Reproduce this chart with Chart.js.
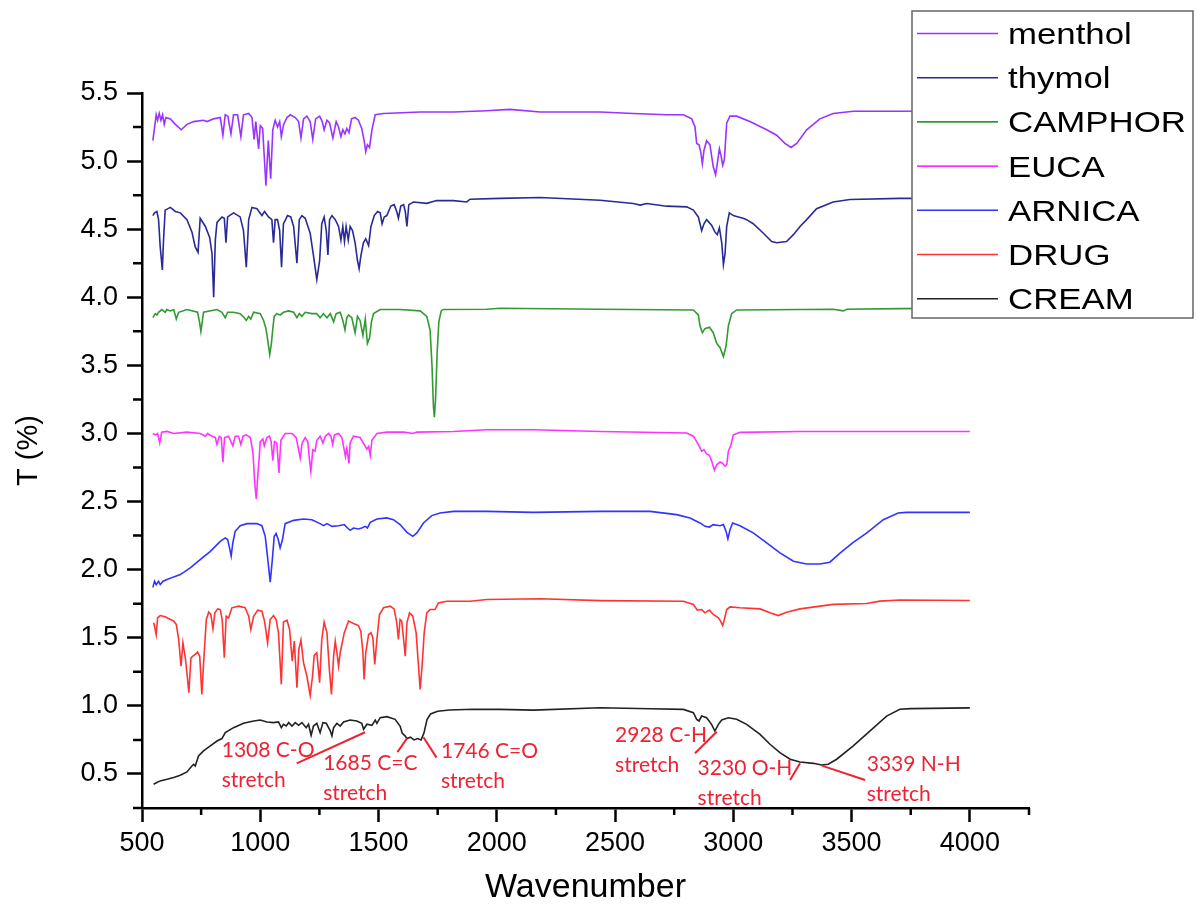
<!DOCTYPE html>
<html>
<head>
<meta charset="utf-8">
<script src="https://cdn.jsdelivr.net/npm/chart.js@4.4.0/dist/chart.umd.min.js"></script>
<style>
  html, body { margin: 0; padding: 0; background: #fff; }
  #wrap { width: 1196px; height: 920px; }
</style>
</head>
<body>
<div id="wrap"><canvas id="ftir" width="1196" height="920"></canvas></div>
<script>
// spectra: [wavenumber, T]
const menthol = [[546,5.15],[560,5.34],[566,5.30],[573,5.35],[580,5.30],[587,5.34],[594,5.27],[601,5.32],[620,5.31],[641,5.27],[666,5.23],[690,5.27],[718,5.29],[760,5.30],[775,5.29],[803,5.31],[831,5.32],[842,5.19],[852,5.34],[863,5.33],[876,5.20],[887,5.34],[904,5.34],[918,5.18],[929,5.34],[951,5.35],[965,5.32],[974,5.16],[981,5.29],[993,5.09],[1000,5.26],[1010,5.24],[1024,4.82],[1034,5.15],[1044,4.87],[1053,5.23],[1063,5.30],[1073,5.25],[1082,5.29],[1089,5.18],[1099,5.27],[1113,5.32],[1127,5.34],[1148,5.32],[1162,5.29],[1172,5.17],[1183,5.31],[1197,5.33],[1211,5.29],[1222,5.16],[1234,5.31],[1251,5.33],[1262,5.29],[1270,5.23],[1282,5.30],[1293,5.28],[1307,5.17],[1321,5.29],[1331,5.25],[1341,5.18],[1349,5.23],[1358,5.20],[1366,5.24],[1375,5.21],[1386,5.31],[1401,5.32],[1415,5.30],[1429,5.24],[1439,5.15],[1446,5.07],[1453,5.12],[1462,5.10],[1472,5.23],[1486,5.34],[1521,5.35],[1676,5.36],[1817,5.36],[1958,5.37],[2056,5.38],[2183,5.36],[2437,5.36],[2577,5.35],[2718,5.34],[2789,5.34],[2824,5.31],[2838,5.25],[2845,5.13],[2855,5.12],[2862,5.07],[2869,4.98],[2876,5.08],[2887,5.15],[2901,5.12],[2915,4.96],[2925,4.90],[2932,4.98],[2941,5.09],[2948,5.04],[2955,4.97],[2962,5.01],[2972,5.28],[2986,5.33],[3014,5.33],[3070,5.29],[3141,5.23],[3183,5.19],[3218,5.13],[3244,5.10],[3268,5.13],[3310,5.23],[3366,5.31],[3422,5.35],[3507,5.366],[3704,5.366],[4000,5.37]];

const thymol = [[546,4.60],[553,4.62],[563,4.63],[570,4.57],[577,4.37],[586,4.20],[591,4.42],[598,4.64],[620,4.66],[641,4.63],[662,4.62],[690,4.57],[711,4.48],[725,4.37],[737,4.33],[746,4.58],[768,4.52],[786,4.44],[796,4.32],[803,4.00],[810,4.42],[817,4.55],[838,4.59],[848,4.58],[855,4.40],[862,4.59],[887,4.62],[915,4.59],[929,4.49],[941,4.22],[951,4.57],[965,4.66],[986,4.65],[1007,4.60],[1018,4.63],[1035,4.59],[1049,4.57],[1056,4.40],[1063,4.57],[1073,4.57],[1082,4.49],[1090,4.22],[1098,4.54],[1107,4.57],[1115,4.60],[1129,4.59],[1141,4.52],[1155,4.25],[1165,4.57],[1176,4.60],[1190,4.58],[1211,4.47],[1228,4.27],[1239,4.13],[1251,4.27],[1260,4.54],[1270,4.59],[1279,4.49],[1286,4.31],[1293,4.57],[1303,4.60],[1317,4.57],[1331,4.52],[1341,4.42],[1349,4.52],[1356,4.41],[1363,4.52],[1372,4.42],[1380,4.52],[1390,4.49],[1401,4.40],[1411,4.27],[1418,4.21],[1425,4.30],[1436,4.40],[1446,4.43],[1458,4.38],[1468,4.52],[1482,4.60],[1496,4.63],[1507,4.62],[1515,4.54],[1524,4.59],[1535,4.60],[1552,4.67],[1566,4.68],[1577,4.63],[1584,4.58],[1594,4.67],[1606,4.68],[1613,4.63],[1620,4.52],[1628,4.68],[1648,4.70],[1704,4.69],[1746,4.71],[1817,4.71],[1873,4.70],[1887,4.72],[2014,4.726],[2183,4.733],[2437,4.713],[2577,4.689],[2606,4.677],[2634,4.689],[2718,4.669],[2803,4.664],[2831,4.64],[2852,4.59],[2866,4.49],[2876,4.54],[2887,4.57],[2908,4.53],[2922,4.48],[2932,4.46],[2941,4.51],[2951,4.40],[2958,4.24],[2965,4.32],[2972,4.52],[2983,4.62],[3000,4.60],[3021,4.59],[3042,4.58],[3056,4.57],[3084,4.54],[3127,4.47],[3162,4.41],[3183,4.40],[3225,4.41],[3254,4.46],[3282,4.52],[3310,4.57],[3352,4.65],[3422,4.70],[3493,4.718],[3704,4.726],[4000,4.725]];

const camphor = [[546,3.85],[556,3.88],[563,3.87],[570,3.89],[584,3.91],[598,3.89],[605,3.91],[620,3.90],[634,3.91],[645,3.84],[655,3.89],[690,3.91],[735,3.89],[744,3.81],[749,3.75],[754,3.81],[760,3.89],[817,3.91],[838,3.89],[852,3.85],[862,3.89],[887,3.89],[915,3.88],[932,3.85],[941,3.83],[951,3.86],[960,3.84],[972,3.89],[1000,3.88],[1014,3.83],[1024,3.77],[1032,3.68],[1040,3.58],[1047,3.66],[1053,3.77],[1059,3.86],[1070,3.88],[1084,3.87],[1098,3.89],[1120,3.90],[1141,3.89],[1155,3.85],[1165,3.88],[1176,3.86],[1190,3.89],[1218,3.88],[1239,3.88],[1253,3.85],[1267,3.88],[1282,3.85],[1296,3.88],[1310,3.82],[1321,3.88],[1338,3.89],[1349,3.83],[1358,3.76],[1366,3.85],[1373,3.87],[1387,3.85],[1401,3.74],[1411,3.86],[1422,3.83],[1434,3.72],[1444,3.84],[1453,3.66],[1462,3.70],[1470,3.82],[1479,3.88],[1507,3.91],[1591,3.91],[1676,3.90],[1704,3.86],[1718,3.76],[1726,3.50],[1732,3.20],[1736,3.12],[1741,3.25],[1748,3.60],[1755,3.82],[1765,3.90],[1774,3.91],[1958,3.912],[2014,3.919],[2437,3.912],[2831,3.907],[2852,3.87],[2859,3.79],[2869,3.74],[2880,3.77],[2899,3.78],[2915,3.74],[2930,3.66],[2944,3.63],[2958,3.565],[2969,3.64],[2979,3.79],[2993,3.88],[3014,3.907],[3422,3.912],[3465,3.90],[3480,3.912],[3704,3.917],[4000,3.92]];

const euca = [[546,3.00],[556,2.99],[566,3.00],[575,2.93],[583,3.01],[606,3.015],[634,3.00],[690,3.01],[746,3.00],[768,2.98],[777,3.00],[796,2.98],[810,2.97],[817,2.92],[827,2.98],[835,2.97],[842,2.79],[849,2.97],[866,2.98],[876,2.94],[884,2.91],[894,2.98],[908,2.98],[918,2.92],[927,2.98],[941,2.99],[958,2.97],[969,2.86],[976,2.65],[983,2.52],[990,2.70],[995,2.81],[1000,2.94],[1011,2.96],[1017,2.91],[1028,2.97],[1039,2.98],[1046,2.94],[1053,2.80],[1060,2.94],[1070,2.93],[1079,2.71],[1087,2.95],[1105,3.00],[1134,3.00],[1152,2.97],[1162,2.88],[1169,2.82],[1177,2.93],[1190,2.97],[1201,2.94],[1208,2.81],[1214,2.72],[1222,2.88],[1232,2.87],[1239,2.95],[1253,2.98],[1265,2.93],[1275,2.98],[1289,3.00],[1299,2.98],[1306,2.92],[1314,2.99],[1331,3.00],[1345,2.97],[1355,2.88],[1360,2.83],[1366,2.89],[1375,2.78],[1380,2.93],[1394,2.98],[1422,2.97],[1439,2.92],[1451,2.885],[1458,2.905],[1465,2.84],[1472,2.95],[1493,3.00],[1535,3.01],[1606,3.01],[1645,3.00],[1662,3.01],[1817,3.015],[1958,3.027],[2155,3.027],[2437,3.015],[2803,3.003],[2831,2.98],[2852,2.92],[2866,2.87],[2876,2.88],[2887,2.85],[2899,2.84],[2908,2.80],[2920,2.73],[2930,2.77],[2944,2.79],[2955,2.78],[2965,2.76],[2972,2.77],[2979,2.87],[2989,2.91],[3000,2.99],[3028,3.008],[3282,3.015],[4000,3.015]];

const arnica = [[546,1.87],[553,1.915],[560,1.89],[570,1.915],[577,1.89],[589,1.915],[606,1.927],[634,1.947],[662,1.964],[704,2.013],[746,2.074],[789,2.135],[831,2.208],[852,2.233],[862,2.221],[870,2.16],[877,2.10],[884,2.196],[894,2.282],[915,2.323],[944,2.338],[986,2.338],[1007,2.323],[1021,2.245],[1032,2.074],[1042,1.908],[1051,2.074],[1059,2.245],[1067,2.265],[1076,2.221],[1084,2.16],[1094,2.221],[1105,2.338],[1141,2.362],[1183,2.372],[1218,2.367],[1253,2.338],[1268,2.323],[1282,2.338],[1303,2.318],[1331,2.323],[1355,2.331],[1369,2.306],[1380,2.289],[1394,2.306],[1415,2.299],[1429,2.306],[1444,2.318],[1453,2.306],[1465,2.348],[1493,2.372],[1535,2.38],[1563,2.367],[1591,2.331],[1620,2.274],[1645,2.245],[1662,2.27],[1690,2.343],[1725,2.397],[1760,2.416],[1817,2.428],[1958,2.428],[2155,2.421],[2437,2.428],[2648,2.428],[2760,2.404],[2817,2.379],[2859,2.343],[2880,2.318],[2899,2.313],[2915,2.331],[2944,2.323],[2958,2.331],[2969,2.282],[2977,2.226],[2986,2.294],[2997,2.343],[3028,2.323],[3084,2.27],[3141,2.196],[3197,2.123],[3254,2.062],[3310,2.042],[3366,2.042],[3408,2.055],[3451,2.122],[3507,2.20],[3563,2.269],[3634,2.367],[3697,2.416],[3732,2.421],[4000,2.421]];

const drug = [[549,1.61],[553,1.585],[560,1.524],[566,1.646],[577,1.663],[598,1.654],[620,1.634],[634,1.622],[645,1.598],[655,1.487],[665,1.292],[673,1.463],[683,1.353],[690,1.243],[698,1.096],[707,1.353],[715,1.365],[725,1.378],[735,1.395],[744,1.365],[753,1.084],[763,1.39],[772,1.634],[782,1.688],[791,1.671],[800,1.566],[808,1.683],[820,1.712],[831,1.707],[839,1.634],[848,1.353],[856,1.658],[866,1.646],[880,1.72],[908,1.732],[936,1.72],[951,1.658],[960,1.561],[972,1.658],[989,1.703],[1007,1.695],[1018,1.622],[1031,1.463],[1042,1.634],[1056,1.663],[1067,1.634],[1077,1.536],[1089,1.158],[1098,1.615],[1113,1.629],[1124,1.561],[1135,1.329],[1144,1.475],[1155,1.133],[1163,1.414],[1172,1.483],[1183,1.316],[1197,1.219],[1211,1.077],[1221,1.219],[1228,1.37],[1239,1.39],[1251,1.17],[1260,1.487],[1270,1.615],[1282,1.536],[1291,1.292],[1301,1.084],[1310,1.365],[1317,1.475],[1324,1.39],[1331,1.292],[1338,1.39],[1355,1.536],[1373,1.622],[1394,1.605],[1415,1.59],[1425,1.549],[1434,1.39],[1439,1.194],[1446,1.39],[1458,1.524],[1468,1.536],[1476,1.5],[1484,1.304],[1493,1.487],[1504,1.671],[1521,1.72],[1549,1.732],[1566,1.712],[1577,1.61],[1584,1.487],[1591,1.634],[1598,1.622],[1606,1.487],[1613,1.365],[1620,1.61],[1631,1.683],[1645,1.658],[1659,1.536],[1669,1.292],[1676,1.121],[1684,1.292],[1693,1.536],[1704,1.683],[1718,1.707],[1739,1.707],[1753,1.756],[1789,1.768],[1887,1.768],[1958,1.781],[2183,1.786],[2437,1.773],[2789,1.768],[2831,1.744],[2848,1.703],[2866,1.707],[2880,1.683],[2899,1.703],[2915,1.671],[2937,1.646],[2946,1.622],[2955,1.59],[2962,1.634],[2972,1.707],[2986,1.727],[3028,1.72],[3113,1.712],[3155,1.683],[3190,1.663],[3225,1.688],[3282,1.712],[3422,1.745],[3563,1.752],[3620,1.769],[3704,1.777],[4000,1.774]];

const cream = [[549,0.425],[563,0.437],[577,0.449],[606,0.461],[634,0.474],[662,0.491],[690,0.515],[711,0.559],[718,0.571],[725,0.559],[739,0.632],[760,0.669],[789,0.706],[817,0.742],[838,0.76],[852,0.803],[887,0.84],[929,0.872],[972,0.889],[1000,0.896],[1028,0.882],[1056,0.877],[1077,0.882],[1089,0.84],[1098,0.865],[1110,0.852],[1120,0.877],[1134,0.852],[1148,0.877],[1162,0.857],[1176,0.877],[1194,0.84],[1204,0.865],[1215,0.784],[1225,0.852],[1239,0.872],[1253,0.803],[1265,0.877],[1279,0.872],[1296,0.816],[1303,0.779],[1310,0.84],[1324,0.872],[1338,0.852],[1352,0.882],[1380,0.896],[1408,0.889],[1429,0.872],[1437,0.828],[1451,0.865],[1472,0.857],[1486,0.896],[1493,0.872],[1507,0.913],[1535,0.921],[1570,0.901],[1591,0.852],[1600,0.80],[1612,0.78],[1620,0.76],[1635,0.77],[1650,0.75],[1665,0.76],[1680,0.75],[1692,0.80],[1705,0.90],[1720,0.94],[1750,0.96],[1800,0.97],[1900,0.975],[2014,0.974],[2155,0.969],[2437,0.986],[2648,0.979],[2789,0.974],[2831,0.95],[2845,0.901],[2855,0.889],[2866,0.925],[2887,0.913],[2908,0.864],[2922,0.815],[2937,0.864],[2951,0.896],[2979,0.913],[3014,0.901],[3056,0.864],[3113,0.791],[3155,0.718],[3197,0.657],[3240,0.608],[3282,0.588],[3338,0.578],[3373,0.566],[3401,0.571],[3437,0.608],[3507,0.706],[3577,0.815],[3648,0.925],[3704,0.975],[3750,0.98],[4000,0.985]];

const seriesNames = ["menthol", "thymol", "CAMPHOR", "EUCA", "ARNICA", "DRUG", "CREAM"];
const seriesData = [menthol, thymol, camphor, euca, arnica, drug, cream];
const seriesColors = ["#9933ff", "#2a2a96", "#339933", "#ff33ff", "#3333ff", "#ff3333", "#222222"];

const xTickValues = [500, 1000, 1500, 2000, 2500, 3000, 3500, 4000];
const yTickValues = [0.5, 1.0, 1.5, 2.0, 2.5, 3.0, 3.5, 4.0, 4.5, 5.0, 5.5];
const xMinorTicks = [750, 1250, 1750, 2250, 2750, 3250, 3750, 4250];
const yMinorTicks = [0.25, 0.75, 1.25, 1.75, 2.25, 2.75, 3.25, 3.75, 4.25, 4.75, 5.25];

// peak labels: text lines anchored at [wavenumber, T], pointer from a to b
const peakNotes = [
  { lines: ["1308 C-O", "stretch"], at: [837, 0.624], a: [1154, 0.578], b: [1443, 0.806] },
  { lines: ["1685 C=C", "stretch"], at: [1266, 0.529], a: [1580, 0.66], b: [1620, 0.76] },
  { lines: ["1746 C=O", "stretch"], at: [1764, 0.617], a: [1690, 0.77], b: [1745, 0.62] },
  { lines: ["2928 C-H", "stretch"], at: [2500, 0.737], a: [2838, 0.652], b: [2930, 0.810] },
  { lines: ["3230 O-H", "stretch"], at: [2849, 0.492], a: [3240, 0.456], b: [3282, 0.578] },
  { lines: ["3339 N-H", "stretch"], at: [3564, 0.524], a: [3374, 0.561], b: [3557, 0.456] }
];

const minorTicks = {
  id: "minorTicks",
  afterDraw(chart) {
    const { ctx, chartArea, scales } = chart;
    ctx.save();
    ctx.strokeStyle = "#000";
    ctx.lineWidth = 2.5;
    ctx.beginPath();
    xMinorTicks.forEach(v => {
      const px = scales.x.getPixelForValue(v);
      ctx.moveTo(px, chartArea.bottom);
      ctx.lineTo(px, chartArea.bottom + 7);
    });
    yMinorTicks.forEach(v => {
      const py = scales.y.getPixelForValue(v);
      ctx.moveTo(chartArea.left, py);
      ctx.lineTo(chartArea.left - 9, py);
    });
    ctx.stroke();
    ctx.restore();
  }
};

const notes = {
  id: "notes",
  afterDatasetsDraw(chart) {
    const { ctx, scales } = chart;
    const px = v => scales.x.getPixelForValue(v);
    const py = v => scales.y.getPixelForValue(v);
    ctx.save();
    ctx.fillStyle = "#ee2233";
    ctx.strokeStyle = "#ee2233";
    ctx.lineWidth = 2;
    ctx.font = "21px Lato";
    ctx.textBaseline = "alphabetic";
    peakNotes.forEach(n => {
      const x0 = px(n.at[0]);
      const y0 = py(n.at[1]);
      n.lines.forEach((t, i) => ctx.fillText(t, x0, y0 + i * 30));
      ctx.beginPath();
      ctx.moveTo(px(n.a[0]), py(n.a[1]));
      ctx.lineTo(px(n.b[0]), py(n.b[1]));
      ctx.stroke();
    });
    ctx.restore();
  }
};

const legendBox = {
  id: "legendBox",
  afterDraw(chart) {
    const ctx = chart.ctx;
    ctx.save();
    ctx.fillStyle = "#fff";
    ctx.fillRect(912, 11, 281, 307);
    ctx.strokeStyle = "#666";
    ctx.lineWidth = 1.5;
    ctx.strokeRect(912, 11, 281, 307);
    ctx.font = "30px 'Liberation Sans', Arial, sans-serif";
    seriesNames.forEach((name, i) => {
      const y = 33.5 + i * 44.2;
      ctx.strokeStyle = seriesColors[i];
      ctx.lineWidth = 1.6;
      ctx.beginPath();
      ctx.moveTo(917, y);
      ctx.lineTo(998, y);
      ctx.stroke();
      ctx.save();
      ctx.translate(1008, y + 10.5);
      ctx.scale(1.16, 1);
      ctx.fillStyle = "#000";
      ctx.fillText(name, 0, 0);
      ctx.restore();
    });
    ctx.restore();
  }
};

const axisFont = { family: "'Liberation Sans', Arial, sans-serif", size: 27 };

new Chart(document.getElementById("ftir"), {
  type: "line",
  data: {
    datasets: seriesData.map((d, i) => ({
      label: seriesNames[i],
      data: d.map(p => ({ x: p[0], y: p[1] })),
      borderColor: seriesColors[i],
      borderWidth: 1.6,
      pointRadius: 0,
      tension: 0,
      fill: false
    }))
  },
  options: {
    responsive: false,
    animation: false,
    events: [],
    layout: { padding: { top: 93, right: 167, left: 0, bottom: 0 } },
    plugins: { legend: { display: false }, tooltip: { enabled: false } },
    scales: {
      x: {
        type: "linear",
        min: 500,
        max: 4250,
        afterFit: s => { s.height = 112; },
        afterBuildTicks: s => { s.ticks = xTickValues.map(v => ({ value: v })); },
        ticks: {
          autoSkip: false,
          maxRotation: 0,
          padding: 5,
          color: "#000",
          font: axisFont,
          callback: v => String(v)
        },
        grid: { drawOnChartArea: false, tickLength: 14, tickWidth: 2.5, tickColor: "#000" },
        border: { color: "#000", width: 2.5 },
        title: { display: true, text: "Wavenumber", color: "#000", font: { family: "'Liberation Sans', Arial, sans-serif", size: 34 }, padding: { top: 0, bottom: 12 } }
      },
      y: {
        min: 0.25,
        max: 5.5,
        afterFit: s => { s.width = 142; },
        afterBuildTicks: s => { s.ticks = yTickValues.map(v => ({ value: v })); },
        ticks: {
          autoSkip: false,
          padding: 9,
          color: "#000",
          font: axisFont,
          callback: v => v.toFixed(1)
        },
        grid: { drawOnChartArea: false, tickLength: 15, tickWidth: 2.5, tickColor: "#000" },
        border: { color: "#000", width: 2.5 },
        title: { display: true, text: "T (%)", color: "#000", font: { family: "'Liberation Sans', Arial, sans-serif", size: 29 }, padding: { top: 12, bottom: 0 } }
      }
    }
  },
  plugins: [minorTicks, notes, legendBox]
});
</script>
</body>
</html>
